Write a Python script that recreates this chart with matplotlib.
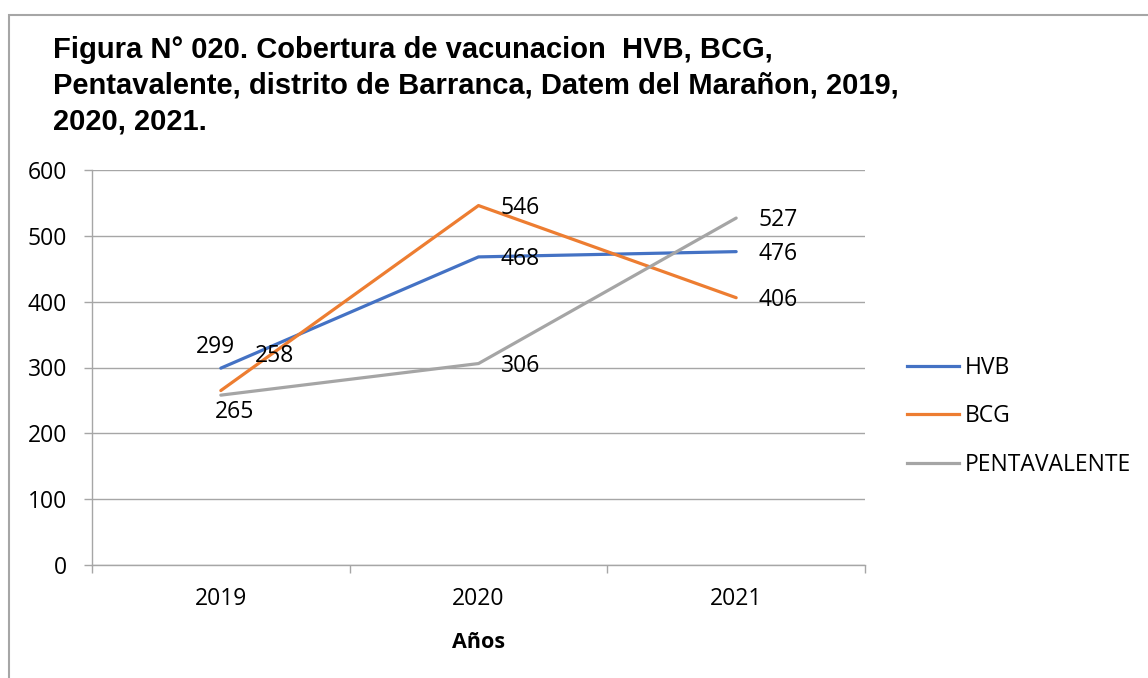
import matplotlib
matplotlib.use("Agg")
import matplotlib.pyplot as plt
from matplotlib.lines import Line2D
from matplotlib.patches import Rectangle

# ---- data ----
years = ["2019", "2020", "2021"]
hvb = [299, 468, 476]
bcg = [265, 546, 406]
penta = [258, 306, 527]
series_names = ["HVB", "BCG", "PENTAVALENTE"]
title = ("Figura N° 020. Cobertura de vacunacion  HVB, BCG,\n"
         "Pentavalente, distrito de Barranca, Datem del Marañon, 2019,\n"
         "2020, 2021.")
xlabel = "Años"
yticks = [0, 100, 200, 300, 400, 500, 600]

# ---- style ----
colors = ["#4472C4", "#ED7D31", "#A5A5A5"]
# label offsets in pixels (dx, dy) relative to each point, per series
label_offsets = [
    [(-5, 21), (42, -2), (42, -2)],
    [(14, -21), (42, -2), (42, -2)],
    [(54, 39), (42, -2), (42, -2)],
]
W, H = 1148, 678
DPI = 100
body_font = "Open Sans"
fs = 16.5
grid_color = "#A6A6A6"

fig = plt.figure(figsize=(W / DPI, H / DPI), dpi=DPI)
fig.patch.set_facecolor("white")

ax = fig.add_axes([92 / W, 1 - 565 / H, (865 - 92) / W, (565 - 170) / H])

xs = list(range(len(years)))
all_series = [hvb, bcg, penta]
for vals, name, c, offs in zip(all_series, series_names, colors, label_offsets):
    ax.plot(xs, vals, color=c, lw=2.3, label=name, solid_capstyle="round",
            solid_joinstyle="round", zorder=3)
    for x, v, (dx, dy) in zip(xs, vals, offs):
        ax.annotate(str(v), (x, v), xytext=(dx, dy), textcoords="offset pixels",
                    ha="center", va="center", fontsize=fs, family=body_font,
                    color="black", zorder=4)

ax.set_xlim(-0.5, len(years) - 0.5)
ax.set_ylim(0, 600)
ax.set_yticks(yticks)
ax.set_yticklabels([str(t) for t in yticks], fontsize=fs, family=body_font)
ax.set_xticks(xs)
ax.set_xticklabels(years, fontsize=fs, family=body_font)
ax.set_xticks([i - 0.5 for i in range(len(years) + 1)], minor=True)
ax.tick_params(axis="x", which="major", length=0, pad=16)
ax.tick_params(axis="x", which="minor", length=6, width=1, color=grid_color, direction="out")
ax.tick_params(axis="y", which="major", length=6, width=1, color=grid_color, pad=12)

ax.yaxis.grid(True, color=grid_color, lw=1.0)
ax.set_axisbelow(True)
for s in ["top", "right"]:
    ax.spines[s].set_visible(False)
for s in ["left", "bottom"]:
    ax.spines[s].set_color(grid_color)
    ax.spines[s].set_linewidth(1.0)

ax.set_xlabel(xlabel, fontsize=15.5, family=body_font, fontweight="bold", labelpad=15)

# title
fig.text(53 / W, 1 - 36 / H, title, ha="left", va="top", fontsize=21,
         family="Liberation Sans", fontweight="bold", linespacing=1.36)

# legend
handles = [Line2D([0], [0], color=c, lw=2.3) for c in colors]
fig.legend(handles, series_names, loc="upper left",
           bbox_to_anchor=(907 / W, 1 - 356 / H), frameon=False,
           prop={"family": body_font, "size": fs}, handlelength=2.27,
           handletextpad=0.26, labelspacing=1.06, borderpad=0, borderaxespad=0)

# outer border
fig.patches.append(Rectangle((9 / W, -0.05), 1.1, 1 - 15 / H + 0.05,
                             transform=fig.transFigure, fill=False,
                             edgecolor="#A6A6A6", lw=1.5))

fig.savefig("out.png", dpi=DPI)
